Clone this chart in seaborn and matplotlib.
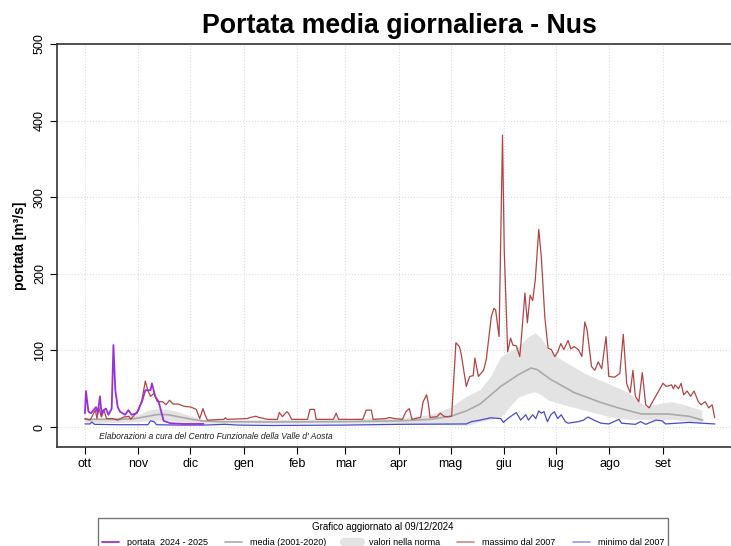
import numpy as np
import pandas as pd
import seaborn as sns
import matplotlib
matplotlib.use('Agg')
import matplotlib.pyplot as plt
from matplotlib.lines import Line2D

# giorni contati dal 1 ottobre
month_days = [0, 31, 61, 92, 123, 151, 182, 212, 243, 273, 304, 335]
month_labels = ['ott', 'nov', 'dic', 'gen', 'feb', 'mar', 'apr', 'mag', 'giu', 'lug', 'ago', 'set']

# portata 2024 - 2025
cur_days = [0, 0.6, 2, 3.5, 6.4, 7.4, 8.7, 9.7, 10.7, 12.2, 13.6, 15.5, 16.5, 17.6, 19, 20.3, 23.3,
            25.2, 27, 30, 33, 35, 38, 38.8, 40.7, 42.7, 45.6, 49.5, 57, 68.7]
cur_vals = [18, 47, 20, 18, 26, 18, 40, 16, 22, 24, 16, 24, 107, 48, 26, 20, 16,
            22, 16, 18, 33, 48, 48, 57, 40, 33, 8, 5, 4, 4]

# media (2001-2020)
mean_days = [0, 7, 19, 29, 36.5, 42.5, 48, 54, 62, 68, 77.5, 108, 150, 183, 200, 212, 221, 229,
             241, 251, 258.5, 262, 270, 283.5, 299, 309, 322.5, 338, 350, 358]
mean_vals = [10, 10, 10, 11, 14, 16.5, 16, 13.5, 10, 8, 7, 6.5, 7, 8, 10, 14, 21, 30,
             53, 68, 77, 75, 62, 45, 32, 25, 17, 17, 14, 9]

# valori nella norma (fascia)
band_days = [0, 20, 31, 36.5, 42.5, 48, 54, 62, 68, 77.5, 110, 150, 183, 200, 212, 221, 229, 235,
             241, 251, 257, 261, 264.5, 268.5, 276, 289.7, 303, 315, 324.5, 334, 340, 347.5, 357.5]
band_low = [6, 6, 7, 8, 9, 9, 7, 6, 5, 5, 5, 5, 5, 3, 3, 2, 7, 10,
            13, 39, 44, 46, 42, 35, 30, 22, 14, 10, 10, 10, 10, 8, 5]
band_high = [12, 13, 16, 22, 24, 23, 20, 14, 10, 9, 10, 11, 12, 16, 26, 40, 49, 66,
             92, 105, 118, 123, 116, 101, 88, 70, 57, 45, 27, 31, 33, 29, 22]

# massimo dal 2007
max_days = [0, 3, 6, 7, 8, 9.5, 11, 12.5, 16, 19, 22.5, 25.5, 26.5, 31, 33, 35, 36.4, 38, 40, 42,
            45, 47, 49, 51, 54, 57.5, 61.5, 64.5, 66.5, 68.4, 69.6, 71, 80.5, 81.4, 82.4, 94, 96,
            99, 100.8, 106, 111.6, 112.6, 114.4, 117, 118, 119.8, 129, 130.4, 133, 134, 144,
            145.6, 147, 161, 163, 166, 167, 174.4, 176.4, 179.4, 184, 186, 188, 189.5, 194.5,
            196, 198, 199, 200, 204, 206, 208, 210, 212.5, 215, 217, 218, 221, 223, 225, 226, 228,
            231, 232.6, 235.5, 237, 238, 240, 242, 243, 245, 246.7, 248, 250, 252, 253, 255,
            256.4, 258, 259.5, 261, 263, 264.5, 266.5, 268.4, 270.3, 272.3, 274, 275.8, 277.5,
            280, 281.6, 283.5, 286, 288, 289.7, 291, 293.6, 295.5, 297.5, 299.5, 302, 303.6, 307,
            310, 312, 314, 316, 317.6, 319, 321, 323, 325, 327, 329, 332, 335, 337, 340, 341, 342,
            344, 345.5, 347, 349, 351, 353, 355.5, 357, 359.5, 361.5, 363.5, 365]
max_vals = [11, 9, 22, 11, 26, 13, 22, 11, 11, 9, 13, 14, 10, 22, 35, 60, 48, 40, 44, 33,
            33, 29, 35, 30, 30, 27, 26, 23, 11, 24, 16, 9, 10, 12, 10, 11, 12.5,
            14, 12.5, 10, 10, 19, 13.5, 20, 18, 10, 10, 23, 23, 10, 10,
            18, 10, 10, 22, 22, 10, 11, 12.5, 11, 10, 20, 24, 10, 12.5,
            33, 42, 31, 12.5, 13.5, 18, 14, 13.5, 14, 110, 105, 96, 53, 66, 67, 90, 66,
            74, 88, 144, 155, 153, 118, 381, 231, 98, 116, 107, 106, 92, 118, 175,
            136, 172, 165, 192, 258, 222, 144, 103, 101, 92, 98, 109, 101,
            113, 102, 105, 101, 92, 137, 127, 79, 74, 85, 76, 118, 66, 65,
            70, 121, 56, 45, 74, 40, 33, 71, 29, 25, 33, 45, 57, 53, 55, 50, 55,
            50, 57, 42, 47, 40, 47, 33, 29, 33, 25, 29, 12]

# minimo dal 2007
min_days = [0, 3, 4, 5.5, 19, 36.5, 38, 40, 41.5, 54, 69, 81, 89, 108, 150, 183, 221, 224, 229,
            235, 241, 242.5, 245, 250, 252.5, 255.5, 257, 259.5, 261.3, 263, 264.5, 266, 268,
            270, 272, 274, 276, 278.4, 280, 286, 289, 291.5, 295, 299, 303.6, 309.5, 311, 319,
            322, 325, 331, 334.5, 336.5, 350, 365]
min_vals = [4, 4, 6.5, 3.5, 3, 3, 8, 7, 3, 2.5, 2.5, 3.5, 2.5, 2, 2.5, 3.5, 4, 7, 9,
            12, 11, 6, 11, 19, 9, 16, 9, 16, 11, 21, 18, 20, 7,
            16, 20, 11, 16, 7, 5, 7, 9, 13, 9, 5, 4, 10, 5, 3.5,
            7, 3.5, 9, 8, 4, 6, 4]

c_cur = '#9b30d9'
c_mean = '#aaaaaa'
c_band = '#e3e3e3'
c_max = '#b04545'
c_min = '#4a4ac8'

sns.set_style('white')
plt.rcParams['font.family'] = ['Liberation Sans', 'DejaVu Sans']
plt.rcParams['text.color'] = 'black'
plt.rcParams['axes.labelcolor'] = 'black'
plt.rcParams['xtick.color'] = 'black'
plt.rcParams['ytick.color'] = 'black'

fig = plt.figure(figsize=(7.31, 5.46), dpi=100)
ax = fig.add_axes([57 / 731, 99 / 546, 685 / 731, 403 / 546])

ax.fill_between(band_days, band_low, band_high, color=c_band, lw=0, zorder=1)
sns.lineplot(x=mean_days, y=mean_vals, ax=ax, color=c_mean, lw=1.2, zorder=2)
sns.lineplot(x=max_days, y=max_vals, ax=ax, color=c_max, lw=0.9, zorder=3)
sns.lineplot(x=min_days, y=min_vals, ax=ax, color=c_min, lw=0.9, zorder=3)
sns.lineplot(x=cur_days, y=cur_vals, ax=ax, color=c_cur, lw=1.3, zorder=4)

ax.set_xlim(-16.2, 380.8)
ax.set_ylim(-26.1, 500)
ax.set_xticks(month_days)
ax.set_xticklabels(month_labels, fontsize=9)
ax.set_yticks([0, 100, 200, 300, 400, 500])
ax.set_yticklabels(['0', '100', '200', '300', '400', '500'], fontsize=9, rotation=90, va='center')
ax.tick_params(axis='both', direction='out', length=5, width=0.8, pad=3)
ax.tick_params(axis='x', bottom=True, colors='black')
ax.tick_params(axis='y', left=True, colors='black')
ax.grid(True, linestyle=':', color='#dddddd', lw=0.8)
ax.set_axisbelow(True)
for side in ['left', 'bottom', 'top']:
    ax.spines[side].set_color('#333333')
    ax.spines[side].set_linewidth(1.2)
ax.spines['right'].set_visible(False)

ax.set_xlabel('')
ax.set_ylabel('portata [m³/s]', fontsize=10, fontweight='bold', labelpad=5)
ax.set_title('Portata media giornaliera - Nus', fontsize=19.3, fontweight='bold', pad=8,
             color='black')

ax.text(8, -13, "Elaborazioni a cura del Centro Funzionale della Valle d' Aosta",
        fontsize=6.2, style='italic', va='center', color='#222222')

handles = [
    Line2D([], [], color=c_cur, lw=1.3),
    Line2D([], [], color=c_mean, lw=1.2),
    Line2D([], [], color=c_band, lw=6, solid_capstyle='round'),
    Line2D([], [], color='#cc8a8a', lw=1.2),
    Line2D([], [], color='#9a9ad8', lw=1.2),
]
labels = ['portata  2024 - 2025', 'media (2001-2020)', 'valori nella norma',
          'massimo dal 2007', 'minimo dal 2007']
leg = fig.legend(handles, labels, ncol=5, loc='upper left', mode='expand',
                 bbox_to_anchor=(98 / 731, 0, 570 / 731, 1 - 518 / 546),
                 borderaxespad=0, fontsize=6.5, title='Grafico aggiornato al 09/12/2024',
                 title_fontsize=7, fancybox=False, handlelength=1.9, handletextpad=0.9,
                 columnspacing=0.8, borderpad=0.4, labelspacing=0.75)
leg.get_frame().set_edgecolor('#555555')
leg.get_frame().set_linewidth(1.0)

fig.savefig('out.png', dpi=100)
